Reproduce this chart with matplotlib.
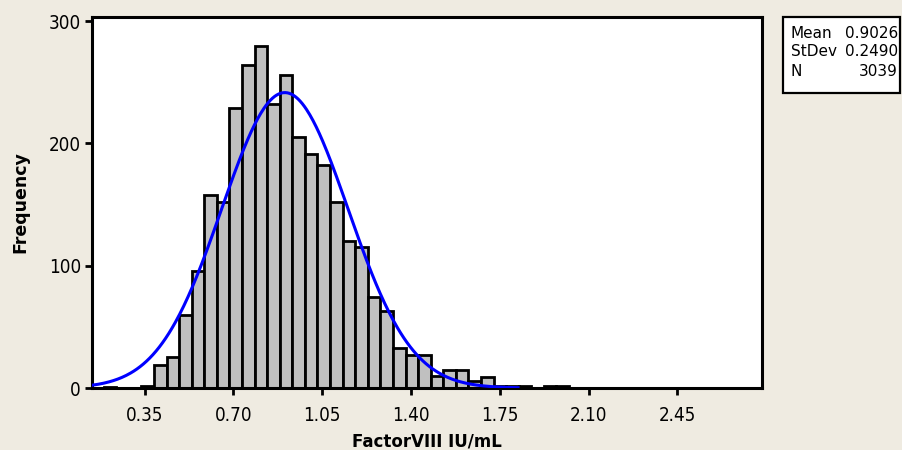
import numpy as np
import matplotlib
matplotlib.use("Agg")
import matplotlib.pyplot as plt
from matplotlib.patches import Rectangle

# histogram of FactorVIII
bin_start = 0.188
bin_width = 0.0496
counts = [1, 0, 0, 2, 19, 25, 60, 96, 158, 152, 229, 264, 280, 232, 256, 205,
          191, 182, 152, 120, 115, 74, 63, 33, 27, 27, 10, 15, 15, 6, 9,
          2, 2, 2, 0, 2, 2]

tick_values = [0.35, 0.70, 1.05, 1.40, 1.75, 2.10, 2.45]
tick_labels = ["0.35", "0.70", "1.05", "1.40", "1.75", "2.10", "2.45"]
ytick_values = [0, 100, 200, 300]

mean = 0.9026
stdev = 0.2490
n = 3039

bg = "#EFEBE1"
fig = plt.figure(figsize=(9.02, 4.5), dpi=100, facecolor=bg)
ax = fig.add_axes([92 / 902, 1 - 388 / 450, 670 / 902, 371 / 450])
ax.set_facecolor("white")

lefts = bin_start + bin_width * np.arange(len(counts))
ax.bar(lefts, counts, width=bin_width, align="edge", color="#C0C0C0",
       edgecolor="black", linewidth=2.0, zorder=2)

# fitted normal curve
xs = np.linspace(0.1422, 1.822, 400)
pdf = np.exp(-0.5 * ((xs - mean) / stdev) ** 2) / (stdev * np.sqrt(2 * np.pi))
ax.plot(xs, pdf * n * bin_width, color="#0000FF", linewidth=2.2, zorder=3)

ax.set_xlim(0.1422, 2.784)
ax.set_ylim(0, 303.3)
ax.set_xticks(tick_values)
ax.set_xticklabels(tick_labels)
ax.set_yticks(ytick_values)

for s in ax.spines.values():
    s.set_linewidth(2.2)
ax.tick_params(axis="both", direction="out", length=5, width=2, color="black",
               labelsize=13.5, pad=3)
ax.tick_params(axis="x", pad=8)
for lab in ax.get_xticklabels() + ax.get_yticklabels():
    lab.set_fontstretch("condensed")

ax.set_xlabel("FactorVIII IU/mL", fontsize=12, fontweight="bold", labelpad=5)
ax.set_ylabel("Frequency", fontsize=12.5, fontweight="bold", labelpad=14)

# stats box
fig.patches.append(Rectangle((783 / 902, 1 - 93 / 450), 117 / 902, 76 / 450,
                             transform=fig.transFigure, facecolor="white",
                             edgecolor="black", linewidth=1.6))
rows = [("Mean", f"{mean:.4f}"), ("StDev", f"{stdev:.4f}"), ("N", f"{n}")]
for i, (k, v) in enumerate(rows):
    y = 1 - (33 + 19 * i) / 450
    fig.text(791 / 902, y, k, fontsize=11, va="center", ha="left")
    fig.text(898 / 902, y, v, fontsize=11, va="center", ha="right")

fig.savefig("out.png", dpi=100, facecolor=bg)
